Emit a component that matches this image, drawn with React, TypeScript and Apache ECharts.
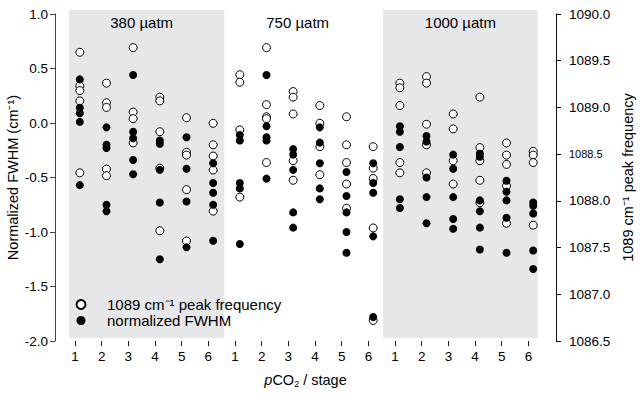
import React, { useEffect, useRef } from "react";
import * as echarts from "echarts";

const stages = ["1", "2", "3", "4", "5", "6"];
const pco2Levels = ["380 µatm", "750 µatm", "1000 µatm"];
const freqName = "1089 cm⁻¹ peak frequency";
const fwhmName = "normalized FWHM";

// normalized FWHM (left axis), per stage
const fwhm380 = [
  [0.40, 0.14, 0.09, 0.01, -0.57],
  [-0.04, -0.20, -0.23, -0.75, -0.81],
  [0.44, -0.08, -0.14, -0.34, -0.47],
  [-0.16, -0.19, -0.43, -0.73, -1.25],
  [-0.13, -0.42, -0.72, -1.14],
  [-0.37, -0.55, -0.64, -0.75, -1.08],
];
const fwhm750 = [
  [-0.11, -0.16, -0.55, -0.60, -1.11],
  [0.44, -0.03, -0.13, -0.16, -0.51],
  [-0.24, -0.29, -0.43, -0.82, -0.96],
  [-0.04, -0.18, -0.37, -0.60, -0.70],
  [-0.45, -0.67, -0.82, -1.00, -1.19],
  [-0.37, -0.55, -0.64, -1.04, -1.78],
];
const fwhm1000 = [
  [-0.03, -0.08, -0.22, -0.70, -0.78],
  [-0.12, -0.17, -0.50, -0.68, -0.92],
  [-0.29, -0.42, -0.68, -0.88, -0.97],
  [-0.28, -0.31, -0.71, -0.81, -0.96, -1.16],
  [-0.53, -0.63, -0.71, -0.87, -1.19],
  [-0.73, -0.76, -0.83, -1.17, -1.34],
];

// 1089 cm-1 peak frequency (right axis), per stage
const freq380 = [
  [1089.59, 1089.23, 1089.18, 1089.07, 1088.30],
  [1089.26, 1089.05, 1089.00, 1088.34, 1088.27],
  [1089.64, 1088.95, 1088.88, 1088.62],
  [1089.11, 1089.07, 1088.74, 1088.35, 1087.68],
  [1088.89, 1088.52, 1088.49, 1088.12, 1087.57],
  [1088.83, 1088.60, 1088.48, 1088.33, 1087.89],
];
const freq750 = [
  [1089.35, 1089.27, 1088.76, 1088.04],
  [1089.64, 1089.03, 1088.90, 1088.88, 1088.41],
  [1089.17, 1089.11, 1088.93, 1088.43, 1088.22],
  [1089.02, 1088.83, 1088.58, 1088.28],
  [1088.90, 1088.60, 1088.41, 1088.18, 1087.92],
  [1088.58, 1088.35, 1088.24, 1087.71, 1086.72],
];
const freq1000 = [
  [1089.26, 1089.21, 1089.02, 1088.41, 1088.30],
  [1089.33, 1089.26, 1088.82, 1088.60, 1088.30],
  [1088.93, 1088.77, 1088.43, 1088.18],
  [1089.11, 1088.57, 1088.43, 1088.22, 1087.98],
  [1088.62, 1088.49, 1088.39, 1088.16, 1087.76],
  [1088.53, 1088.49, 1088.41, 1087.74],
];

const FONT = "'Liberation Sans', Arial, Helvetica, sans-serif";

function buildPoints(groups: number[][][]) {
  const out: number[][] = [];
  groups.forEach((group, g) => {
    group.forEach((vals, s) => {
      vals.forEach((v) => out.push([g * 6 + s + 0.18, v]));
    });
  });
  return out;
}

export default function App() {
  const ref = useRef<HTMLDivElement>(null);
  useEffect(() => {
    document.body.style.margin = "0";
    if (!ref.current) return;
    const chart = echarts.init(ref.current, null, { renderer: "svg" });
    const tickPositions = Array.from({ length: 18 }, (_, i) => i);
    const shade = "#e6e7e9";
    const option: any = {
      animation: false,
      textStyle: { fontFamily: FONT, color: "#000" },
      grid: [
        { left: 55, right: 84, top: 14, bottom: 57, outerBoundsMode: "none" },
        { left: 55, right: 84, top: 10, bottom: 60, outerBoundsMode: "none" },
      ],
      xAxis: [
        {
          type: "value",
          gridIndex: 0,
          min: -0.75,
          max: 18.035,
          z: 5,
          axisLine: { show: false, onZero: false },
          splitLine: { show: false },
          axisTick: {
            show: true,
            length: 5,
            customValues: tickPositions,
            lineStyle: { color: "#222" },
          },
          axisLabel: {
            customValues: tickPositions,
            formatter: (v: number) => stages[Math.round(v) % 6],
            fontSize: 13.5,
            color: "#000",
            margin: 8,
            fontFamily: FONT,
          },
          name: "{i|p}CO{s|2} / stage",
          nameLocation: "middle",
          nameGap: 31,
          nameMoveOverlap: false,
          nameTextStyle: {
            fontFamily: FONT,
            fontSize: 14.5,
            color: "#000",
            rich: {
              i: { fontStyle: "italic", fontSize: 14.5, fontFamily: FONT, color: "#000" },
              s: {
                fontSize: 9,
                fontFamily: FONT,
                color: "#000",
                verticalAlign: "bottom",
                padding: [7, 0, 0, 0],
              },
            },
          },
        },
        { type: "value", gridIndex: 1, min: -0.75, max: 18.035, show: false },
      ],
      yAxis: [
        {
          type: "value",
          gridIndex: 0,
          position: "left",
          min: -2,
          max: 1,
          interval: 0.5,
          z: 5,
          splitLine: { show: false },
          axisLine: { show: true, onZero: false, lineStyle: { color: "#444" } },
          axisTick: { show: true, length: 5, lineStyle: { color: "#444" } },
          axisLabel: {
            formatter: (v: number) => v.toFixed(1),
            fontSize: 13.5,
            color: "#000",
            margin: 7,
            fontFamily: FONT,
          },
          name: "Normalized FWHM (cm⁻¹)",
          nameLocation: "middle",
          nameRotate: 90,
          nameGap: 35,
          nameMoveOverlap: false,
          nameTextStyle: { fontFamily: FONT, fontSize: 14.5, color: "#000" },
        },
        {
          type: "value",
          gridIndex: 0,
          position: "right",
          min: 1086.5,
          max: 1090,
          interval: 0.5,
          z: 5,
          splitLine: { show: false },
          axisLine: { show: true, onZero: false, lineStyle: { color: "#111" } },
          axisTick: { show: true, length: 5, lineStyle: { color: "#111" } },
          axisLabel: {
            formatter: (v: number) =>
              Math.abs(v - 1088.5) < 1e-6 ? "{s|1088.5}" : v.toFixed(1),
            fontSize: 13.5,
            color: "#000",
            margin: 13,
            fontFamily: FONT,
            rich: { s: { fontSize: 11, fontFamily: FONT, color: "#000" } },
          },
          name: "1089 cm⁻¹ peak frequency",
          nameLocation: "middle",
          nameRotate: 90,
          nameGap: 64,
          nameMoveOverlap: false,
          nameTextStyle: { fontFamily: FONT, fontSize: 14.5, color: "#000" },
        },
        { type: "value", gridIndex: 1, min: 0, max: 1, show: false },
      ],
      legend: {
        data: [freqName, fwhmName],
        orient: "vertical",
        left: 70.5,
        top: 292,
        itemWidth: 36,
        itemHeight: 9,
        itemGap: 1,
        selectedMode: false,
        icon: "circle",
        textStyle: { fontFamily: FONT, fontSize: 15, color: "#000", padding: [0, 0, 0, 3] },
      },
      series: [
        {
          type: "scatter",
          xAxisIndex: 1,
          yAxisIndex: 2,
          data: [],
          silent: true,
          z: 0,
          markArea: {
            silent: true,
            label: {
              show: true,
              position: "insideTop",
              distance: 5,
              fontSize: 15,
              color: "#000",
              fontFamily: FONT,
            },
            data: [
              [
                { name: pco2Levels[0], xAxis: -0.225, itemStyle: { color: shade }, label: { offset: [-5, 0] } },
                { xAxis: 5.6 },
              ],
              [
                { name: pco2Levels[1], xAxis: 5.6, itemStyle: { color: "rgba(0,0,0,0)" }, label: { offset: [-6, 0] } },
                { xAxis: 11.55 },
              ],
              [
                { name: pco2Levels[2], xAxis: 11.55, itemStyle: { color: shade } },
                { xAxis: 17.35 },
              ],
            ],
          },
        },
        {
          name: freqName,
          type: "scatter",
          xAxisIndex: 0,
          yAxisIndex: 1,
          data: buildPoints([freq380, freq750, freq1000]),
          symbol: "circle",
          symbolSize: 8,
          itemStyle: { color: "#ffffff", borderColor: "#000", borderWidth: 1, opacity: 1 },
          z: 3,
        },
        {
          name: fwhmName,
          type: "scatter",
          xAxisIndex: 0,
          yAxisIndex: 0,
          data: buildPoints([fwhm380, fwhm750, fwhm1000]),
          symbol: "circle",
          symbolSize: 8,
          itemStyle: { color: "#000", opacity: 1 },
          z: 4,
        },
      ],
    };
    chart.setOption(option);
    return () => chart.dispose();
  }, []);
  return <div ref={ref} style={{ width: 640, height: 398 }} />;
}
